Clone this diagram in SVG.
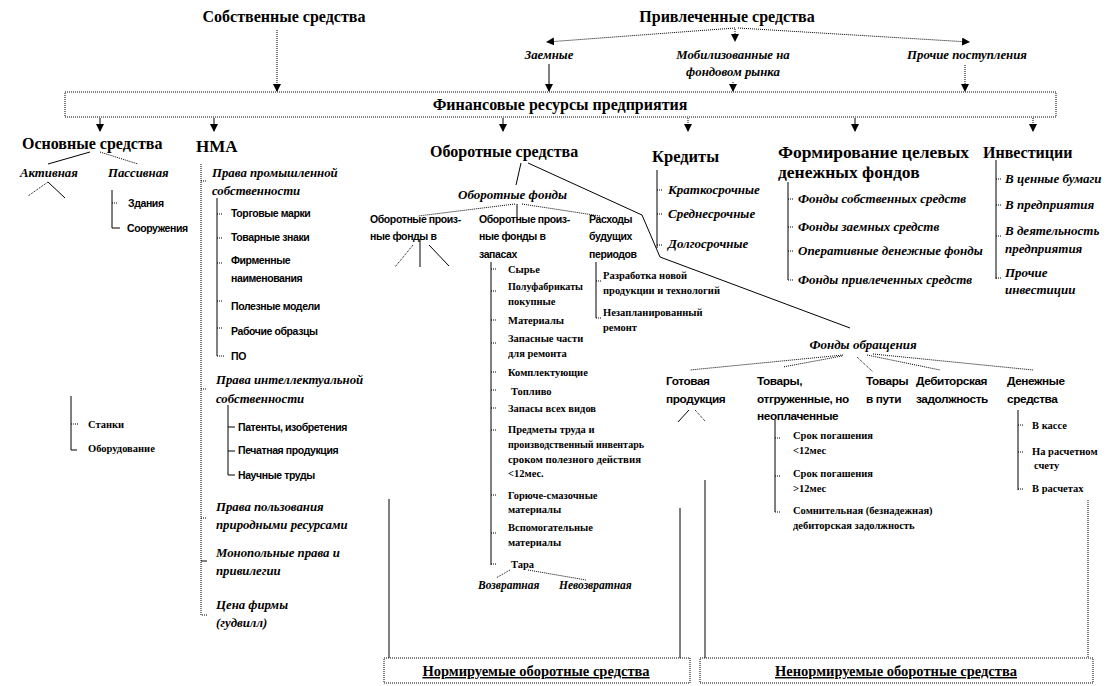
<svg xmlns="http://www.w3.org/2000/svg" width="1118" height="686" viewBox="0 0 1118 686">
<style>
text{fill:#000}
.h{font-family:"Liberation Serif","Times New Roman","DejaVu Serif",serif;font-weight:bold;font-size:16px}
.hi{font-family:"Liberation Serif","Times New Roman","DejaVu Serif",serif;font-weight:bold;font-style:italic;font-size:12.8px}
.s{font-family:"Liberation Sans",Arial,sans-serif;font-weight:bold;font-size:10.5px;letter-spacing:-0.4px}
.s2{font-size:11.8px}
.ss{font-family:"Liberation Serif","Times New Roman","DejaVu Serif",serif;font-weight:bold;font-size:10.5px}
.fi{font-size:13px}
.ln{fill:none;stroke:#000;stroke-width:1}
.dt{fill:none;stroke:#000;stroke-width:1;stroke-dasharray:1 1}
.box{fill:#fff;stroke:#000;stroke-width:1;stroke-dasharray:1 1}
</style>
<defs>
<marker id="ah" markerWidth="8" markerHeight="8" refX="7" refY="4" orient="auto" markerUnits="userSpaceOnUse">
<path d="M0,0 L8,4 L0,8 Z" fill="#000"/>
</marker>
</defs>
<rect width="1118" height="686" fill="#fff"/>

<g id="connectors">
<path class="dt" d="M277,30 V91" marker-end="url(#ah)"/>
<path class="dt" d="M735,28 L547,42" marker-end="url(#ah)"/>
<path class="dt" d="M735,29 V41" marker-end="url(#ah)"/>
<path class="dt" d="M738,28 L969,42" marker-end="url(#ah)"/>
<path class="ln" d="M549,64 V91" marker-end="url(#ah)"/>
<path class="dt" d="M733,82 V91" marker-end="url(#ah)"/>
<path class="dt" d="M965,65 V91" marker-end="url(#ah)"/>
<path class="ln" d="M100,118 V131" marker-end="url(#ah)"/>
<path class="ln" d="M214,118 V131" marker-end="url(#ah)"/>
<path class="ln" d="M503,118 V131" marker-end="url(#ah)"/>
<path class="dt" d="M688,118 V131" marker-end="url(#ah)"/>
<path class="ln" d="M855,118 V131" marker-end="url(#ah)"/>
<path class="dt" d="M1033,118 V131" marker-end="url(#ah)"/>
<path class="ln" d="M90,152 L48,164"/>
<path class="dt" d="M100,152 L138,164"/>
<path class="dt" d="M48,182 L28,196"/>
<path class="ln" d="M48,182 L65,198"/>
<path class="ln" d="M112,190 V228 H120"/>
<path class="dt" d="M112,203 H118"/>
<path class="ln" d="M71,396 V450 H77"/>
<path class="dt" d="M71,424 H78"/>
<path class="dt" d="M201,164 V615 H207"/>
<path class="dt" d="M201,181 H207"/>
<path class="dt" d="M201,389 H207"/>
<path class="dt" d="M201,518 H207"/>
<path class="ln" d="M201,561 H207"/>
<path class="ln" d="M217,198 V356"/>
<path class="dt" d="M217,214 H222 M217,238 H222 M217,263 H222 M217,301 H222 M217,328 H222 M217,356 H224"/>
<path class="ln" d="M228,405 V475 H235"/>
<path class="ln" d="M228,427 H235 M228,451 H235"/>
<path class="ln" d="M521,163 L516,185"/>
<path class="ln" d="M528,163 L642,215 L660,257 L850,328"/>
<path class="dt" d="M515,204 L418,216"/>
<path class="ln" d="M517,204 V218"/>
<path class="dt" d="M522,204 L600,216"/>
<path class="dt" d="M413,245 L395,267"/>
<path class="ln" d="M420,239 V267"/>
<path class="ln" d="M429,245 L449,266"/>
<path class="ln" d="M491,262 V565"/>
<path class="dt" d="M491,269 H497 M491,291 H497 M491,320 H497 M491,343 H497 M491,372 H497 M491,390 H497 M491,408 H497 M491,430 H497 M491,495 H497 M491,533 H497 M491,564 H497"/>
<path class="dt" d="M510,570 L496,578"/>
<path class="dt" d="M528,570 L586,580"/>
<path class="ln" d="M596,262 V318"/>
<path class="dt" d="M596,281 H601 M596,318 H601"/>
<path class="ln" d="M657,170 V248"/>
<path class="dt" d="M657,190 H663 M657,214 H663 M657,245 H663"/>
<path class="ln" d="M788,182 V280"/>
<path class="dt" d="M788,199 H794 M788,227 H794 M788,251 H794 M788,280 H794"/>
<path class="ln" d="M996,160 V279"/>
<path class="dt" d="M996,179 H1002 M996,205 H1002 M996,236 H1002 M996,278 H1002"/>
<path class="dt" d="M843,355 L690,370"/>
<path class="dt" d="M842,356 L783,367"/>
<path class="dt" d="M857,357 L873,372"/>
<path class="dt" d="M867,355 L940,370"/>
<path class="dt" d="M873,354 L1033,370"/>
<path class="ln" d="M689,410 L678,422"/>
<path class="dt" d="M695,410 L705,421"/>
<path class="ln" d="M775,420 V512"/>
<path class="dt" d="M775,438 H780 M775,476 H780 M775,512 H780"/>
<path class="ln" d="M1018,410 V490"/>
<path class="dt" d="M1018,425 H1024 M1018,452 H1024 M1018,489 H1024"/>
<path class="ln" d="M389,499 V658"/>
<path class="ln" d="M680,508 V658"/>
<path class="ln" d="M705,480 V658"/>
<path class="dt" d="M1088,500 V658"/>
</g>

<g id="n-sobstv"><text class="h" x="284" y="22" text-anchor="middle">Собственные средства</text></g>
<g id="n-privl"><text class="h" x="727" y="22" text-anchor="middle">Привлеченные средства</text></g>
<g id="n-zaem"><text class="hi" x="549" y="59" text-anchor="middle">Заемные</text></g>
<g id="n-mobil"><text class="hi" x="733" y="59" text-anchor="middle">Мобилизованные на</text><text class="hi" x="733" y="76" text-anchor="middle">фондовом рынка</text></g>
<g id="n-proch"><text class="hi" x="967" y="59" text-anchor="middle">Прочие поступления</text></g>
<g id="n-fin"><rect class="box" x="65" y="92" width="991" height="25"/><text class="h" x="560" y="110" text-anchor="middle">Финансовые ресурсы предприятия</text></g>

<g id="n-osn">
<text class="h" x="22" y="149">Основные средства</text>
<text class="hi" x="20" y="177">Активная</text>
<text class="hi" x="108" y="177">Пассивная</text>
<text class="s" x="128" y="207">Здания</text>
<text class="s" x="127" y="232">Сооружения</text>
<text class="ss" x="88" y="428">Станки</text>
<text class="ss" x="88" y="452">Оборудование</text>
</g>

<g id="n-nma">
<text class="h" x="196" y="152" style="font-size:17px">НМА</text>
<text class="hi" x="212" y="177">Права промышленной</text>
<text class="hi" x="212" y="195">собственности</text>
<text class="s" x="231" y="217">Торговые марки</text>
<text class="s" x="231" y="241">Товарные знаки</text>
<text class="s" x="231" y="264">Фирменные</text>
<text class="s" x="231" y="282">наименования</text>
<text class="s" x="231" y="310">Полезные модели</text>
<text class="s" x="231" y="335">Рабочие образцы</text>
<text class="s" x="231" y="360">ПО</text>
<text class="hi" x="216" y="384">Права интеллектуальной</text>
<text class="hi" x="216" y="403">собственности</text>
<text class="s" x="238" y="431">Патенты, изобретения</text>
<text class="s" x="238" y="454">Печатная продукция</text>
<text class="s" x="238" y="479">Научные труды</text>
<text class="hi" x="216" y="511">Права пользования</text>
<text class="hi" x="216" y="529">природными ресурсами</text>
<text class="hi" x="216" y="557">Монопольные права и</text>
<text class="hi" x="216" y="575">привилегии</text>
<text class="hi" x="216" y="609">Цена фирмы</text>
<text class="hi" x="216" y="627">(гудвилл)</text>
</g>

<g id="n-obor">
<text class="h" x="430" y="157">Оборотные средства</text>
<text class="hi" x="458" y="199" style="font-size:13px">Оборотные фонды</text>
<text class="s" x="370" y="223">Оборотные произ-</text>
<text class="s" x="370" y="240">ные фонды в</text>
<text class="s" x="479" y="223">Оборотные произ-</text>
<text class="s" x="479" y="240">ные фонды в</text>
<text class="s" x="479" y="258">запасах</text>
<text class="s" x="589" y="223">Расходы</text>
<text class="s" x="589" y="240">будущих</text>
<text class="s" x="589" y="258">периодов</text>
<text class="ss" x="508" y="273">Сырье</text>
<text class="ss" x="508" y="290" textLength="75" lengthAdjust="spacingAndGlyphs">Полуфабрикаты</text>
<text class="ss" x="508" y="305">покупные</text>
<text class="ss" x="508" y="324">Материалы</text>
<text class="ss" x="508" y="342">Запасные части</text>
<text class="ss" x="508" y="357">для ремонта</text>
<text class="ss" x="508" y="376">Комплектующие</text>
<text class="ss" x="511" y="395">Топливо</text>
<text class="ss" x="508" y="412">Запасы всех видов</text>
<text class="ss" x="508" y="433">Предметы труда и</text>
<text class="ss" x="508" y="448" textLength="136" lengthAdjust="spacingAndGlyphs">производственный инвентарь</text>
<text class="ss" x="508" y="463" textLength="133" lengthAdjust="spacingAndGlyphs">сроком полезного действия</text>
<text class="ss" x="508" y="477">&lt;12мес.</text>
<text class="ss" x="508" y="499">Горюче-смазочные</text>
<text class="ss" x="508" y="513">материалы</text>
<text class="ss" x="508" y="531">Вспомогательные</text>
<text class="ss" x="508" y="546">материалы</text>
<text class="ss" x="511" y="568">Тара</text>
<text class="hi" x="478" y="589" style="font-size:11.5px">Возвратная</text>
<text class="hi" x="559" y="589" style="font-size:11.5px">Невозвратная</text>
<text class="ss" x="603" y="279">Разработка новой</text>
<text class="ss" x="603" y="294">продукции и технологий</text>
<text class="ss" x="603" y="316">Незапланированный</text>
<text class="ss" x="603" y="331">ремонт</text>
</g>

<g id="n-kred">
<text class="h" x="652" y="162" style="font-size:16.5px">Кредиты</text>
<text class="hi" x="668" y="194" style="font-size:13px">Краткосрочные</text>
<text class="hi" x="668" y="218" style="font-size:13px">Среднесрочные</text>
<text class="hi" x="668" y="248" style="font-size:13px">Долгосрочные</text>
</g>

<g id="n-form">
<text class="h" x="778" y="158" style="font-size:17.5px">Формирование целевых</text>
<text class="h" x="778" y="178" style="font-size:17.5px">денежных фондов</text>
<text class="hi fi" x="798" y="203">Фонды собственных средств</text>
<text class="hi fi" x="798" y="231">Фонды заемных средств</text>
<text class="hi fi" x="798" y="255">Оперативные денежные фонды</text>
<text class="hi fi" x="798" y="284">Фонды привлеченных средств</text>
</g>

<g id="n-invest">
<text class="h" x="983" y="158">Инвестиции</text>
<text class="hi fi" x="1005" y="183">В ценные бумаги</text>
<text class="hi fi" x="1005" y="209">В предприятия</text>
<text class="hi fi" x="1005" y="235">В деятельность</text>
<text class="hi fi" x="1005" y="253">предприятия</text>
<text class="hi fi" x="1005" y="277">Прочие</text>
<text class="hi fi" x="1005" y="294">инвестиции</text>
</g>

<g id="n-obr">
<text class="hi" x="863" y="349" text-anchor="middle" style="font-size:13px">Фонды обращения</text>
<text class="s s2" x="666" y="385">Готовая</text>
<text class="s s2" x="666" y="403">продукция</text>
<text class="s s2" x="757" y="385">Товары,</text>
<text class="s s2" x="757" y="403">отгруженные, но</text>
<text class="s s2" x="757" y="420">неоплаченные</text>
<text class="s s2" x="866" y="385">Товары</text>
<text class="s s2" x="866" y="403">в пути</text>
<text class="s s2" x="916" y="385">Дебиторская</text>
<text class="s s2" x="916" y="403">задолжность</text>
<text class="s s2" x="1007" y="385">Денежные</text>
<text class="s s2" x="1007" y="403">средства</text>
<text class="ss" x="793" y="439">Срок погашения</text>
<text class="ss" x="793" y="454">&lt;12мес</text>
<text class="ss" x="793" y="477">Срок погашения</text>
<text class="ss" x="793" y="492">&gt;12мес</text>
<text class="ss" x="793" y="514">Сомнительная (безнадежная)</text>
<text class="ss" x="793" y="529">дебиторская задолжность</text>
<text class="ss" x="1032" y="429">В кассе</text>
<text class="ss" x="1032" y="455">На расчетном</text>
<text class="ss" x="1034" y="469">счету</text>
<text class="ss" x="1032" y="492">В расчетах</text>
</g>

<g id="n-norm"><rect class="box" x="384" y="658" width="306" height="25"/><text class="h" x="536" y="676" text-anchor="middle" style="font-size:14.5px;text-decoration:underline">Нормируемые оборотные средства</text></g>
<g id="n-nenorm"><rect class="box" x="700" y="658" width="393" height="25"/><text class="h" x="896" y="676" text-anchor="middle" style="font-size:14.5px;text-decoration:underline">Ненормируемые оборотные средства</text></g>
</svg>
